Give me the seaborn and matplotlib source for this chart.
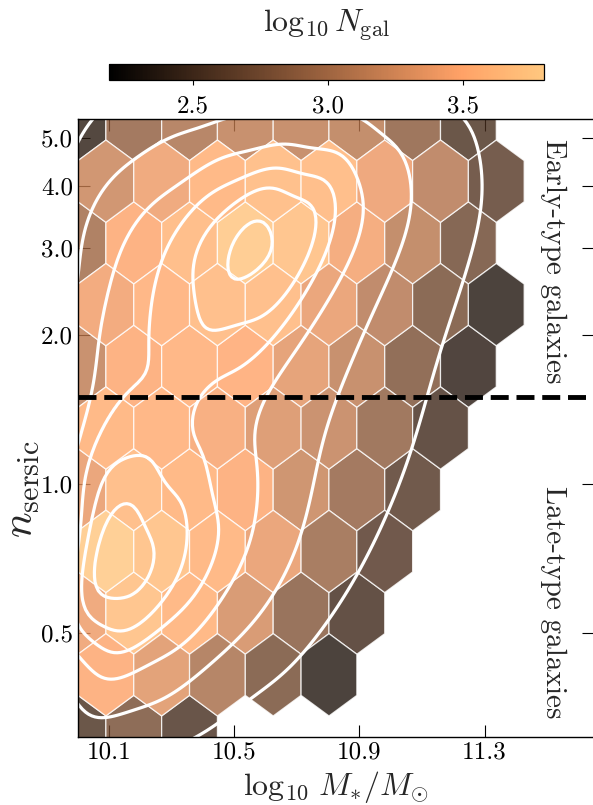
import math
import numpy as np
import pandas as pd
import matplotlib
matplotlib.use("Agg")
import matplotlib.pyplot as plt
import seaborn as sns
from matplotlib.cm import ScalarMappable
from matplotlib.colors import Normalize
from matplotlib.ticker import FixedLocator, FormatStrFormatter, NullLocator

nan = np.nan

# Hexagon lattice: 9 columns in stellar mass, log-spaced rows in Sersic index
GRIDSIZE = 9
MASS_EDGES = (10.0, 11.605)      # log10 M*/Msun (sample starts at the mass limit)
LOGN_EDGES = (-0.511, 0.736)     # log10 n_sersic

# log10 of the galaxy count in each hexagon (NaN = empty hexagon)
# primary lattice rows, bottom to top, 10 hexagons per row
counts_primary = [
    [2.55, 2.77, 2.53, nan, nan, nan, nan, nan, nan, nan],
    [3.40, 3.68, 3.55, 3.25, 2.85, 2.50, nan, nan, nan, nan],
    [3.36, 3.62, 3.55, 3.48, 3.19, 2.91, 2.59, nan, nan, nan],
    [3.15, 3.48, 3.53, 3.50, 3.33, 3.14, 2.80, 2.38, nan, nan],
    [2.99, 3.48, 3.60, 3.75, 3.68, 3.43, 3.12, 2.72, nan, nan],
    [2.40, 2.91, 3.04, 3.14, 3.14, 3.12, 2.88, 2.55, nan, nan],
]
# offset lattice rows, bottom to top, 9 hexagons per row
counts_offset = [
    [3.48, 3.32, 3.03, 2.75, 2.35, nan, nan, nan, nan],
    [3.78, 3.68, 3.55, 3.36, 2.95, 2.58, nan, nan, nan],
    [3.55, 3.53, 3.45, 3.28, 3.16, 2.90, 2.51, nan, nan],
    [3.42, 3.54, 3.62, 3.62, 3.36, 3.10, 2.75, 2.35, nan],
    [3.20, 3.40, 3.55, 3.63, 3.60, 3.39, 3.10, 2.62, nan],
]

CBAR_RANGE = (2.19, 3.80)
N_SPLIT = 1.5
CONTOUR_LEVELS = [0.05, 0.2, 0.4, 0.6, 0.8, 0.95]   # iso-proportions
mass_ticks = [10.1, 10.5, 10.9, 11.3]
n_ticks = [0.5, 1.0, 2.0, 3.0, 4.0, 5.0]
cbar_ticks = [2.5, 3.0, 3.5]

# ---- hexagon centres from the lattice definition ----
nx = GRIDSIZE
ny = int(nx / math.sqrt(3))
sx = (MASS_EDGES[1] - MASS_EDGES[0]) / nx
sy = (LOGN_EDGES[1] - LOGN_EDGES[0]) / ny

records = []
for j, row in enumerate(counts_primary):
    for i, v in enumerate(row):
        if not np.isnan(v):
            records.append((MASS_EDGES[0] + i * sx, 10 ** (LOGN_EDGES[0] + j * sy), v))
for j, row in enumerate(counts_offset):
    for i, v in enumerate(row):
        if not np.isnan(v):
            records.append((MASS_EDGES[0] + (i + 0.5) * sx,
                            10 ** (LOGN_EDGES[0] + (j + 0.5) * sy), v))
df = pd.DataFrame(records, columns=["logmass", "n", "logN"])

# hexagons centred on the mass limit only sample half of their area,
# so their counts are doubled when building the density estimate
area_frac = np.where(np.isclose(df["logmass"], MASS_EDGES[0]), 0.5, 1.0)
df["weight"] = 10 ** df["logN"] / area_frac

# ---- style ----
sns.set_style("ticks")
plt.rcParams.update({
    "font.family": ["cmr10"],
    "mathtext.fontset": "cm",
    "axes.formatter.use_mathtext": True,
    "axes.unicode_minus": False,
    "axes.linewidth": 1.0,
    "xtick.direction": "in",
    "ytick.direction": "in",
    "xtick.top": True,
    "ytick.right": True,
    "xtick.major.size": 8.5,
    "ytick.major.size": 8.5,
    "xtick.major.width": 0.8,
    "ytick.major.width": 0.8,
    "xtick.color": "black",
    "ytick.color": "black",
    "axes.edgecolor": "black",
})

W, H, DPI = 593, 805, 100
fig = plt.figure(figsize=(W / DPI, H / DPI), dpi=DPI)
ax = fig.add_axes([78 / W, 1 - 736.5 / H, 516 / W, 617 / H])

norm = Normalize(*CBAR_RANGE)
hb = ax.hexbin(df["logmass"], df["n"], C=df["logN"], reduce_C_function=np.mean,
               gridsize=GRIDSIZE, extent=(*MASS_EDGES, *LOGN_EDGES), yscale="log",
               cmap="copper", norm=norm, alpha=0.8,
               edgecolors="white", linewidths=0.9)

# density contours of the binned sample
sns.kdeplot(data=df, x="logmass", y="n", weights="weight", log_scale=(False, True),
            levels=CONTOUR_LEVELS, bw_adjust=0.6, colors="white", linewidths=2.3, ax=ax)

ax.axhline(N_SPLIT, color="black", lw=3.5, ls="--")

ax.set_xlim(MASS_EDGES[0], 11.65)
ax.set_ylim(10 ** LOGN_EDGES[0], 10 ** LOGN_EDGES[1])
ax.xaxis.set_major_locator(FixedLocator(mass_ticks))
ax.xaxis.set_major_formatter(FormatStrFormatter("%.1f"))
ax.xaxis.set_minor_locator(NullLocator())
ax.yaxis.set_major_locator(FixedLocator(n_ticks))
ax.yaxis.set_major_formatter(FormatStrFormatter("%.1f"))
ax.yaxis.set_minor_locator(NullLocator())
ax.tick_params(labelsize=18)

ax.set_xlabel(r"$\log_{10}\,M_{*}/M_{\odot}$", fontsize=23, labelpad=4)
ax.set_ylabel(r"$n_{\rm sersic}$", fontsize=31)
ax.yaxis.set_label_coords(-0.070, 0.40)

fig.text(553 / W, 1 - 261 / H, "Early-type galaxies", rotation=270,
         ha="center", va="center", fontsize=21)
fig.text(553 / W, 1 - 602 / H, "Late-type galaxies", rotation=270,
         ha="center", va="center", fontsize=21)

cax = fig.add_axes([109.3 / W, 1 - 80.3 / H, 434.4 / W, 16.3 / H])
cb = fig.colorbar(ScalarMappable(norm=norm, cmap="copper"), cax=cax,
                  orientation="horizontal", ticks=cbar_ticks)
cb.ax.xaxis.set_major_formatter(FormatStrFormatter("%.1f"))
cb.ax.tick_params(labelsize=18, direction="out", length=3.5, pad=7,
                  top=False, bottom=True)
cb.outline.set_linewidth(0.9)
cb.set_label(r"$\log_{10}N_{\rm gal}$", fontsize=23, labelpad=23)
cax.xaxis.set_label_position("top")

fig.savefig("out.png", dpi=DPI)
